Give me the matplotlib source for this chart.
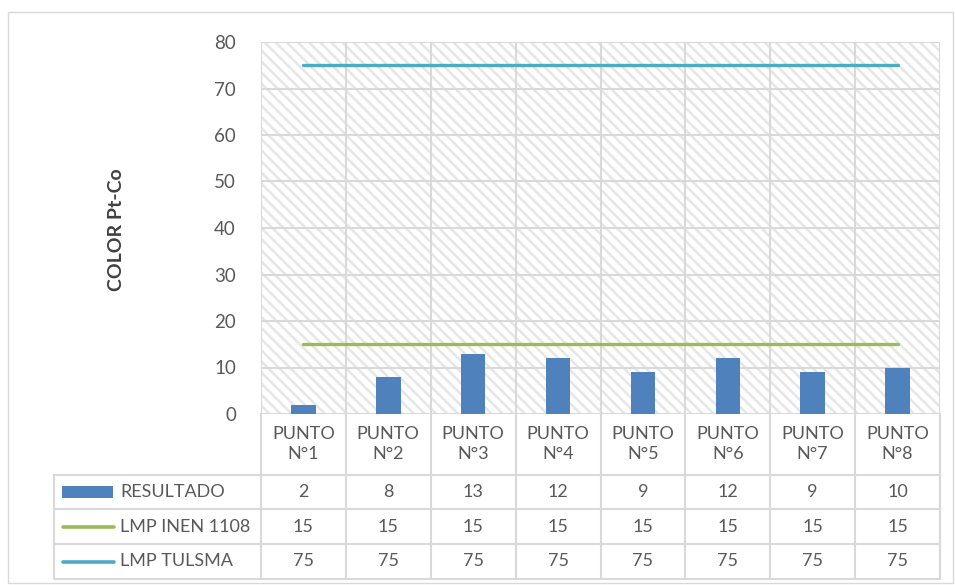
import matplotlib
matplotlib.use("Agg")
import matplotlib.pyplot as plt
from matplotlib.patches import Rectangle
from matplotlib.lines import Line2D
from matplotlib.transforms import blended_transform_factory

plt.rcParams['font.family'] = ['Lato', 'DejaVu Sans']
plt.rcParams['hatch.color'] = '#E6E6E6'
plt.rcParams['hatch.linewidth'] = 1.8

categories = ["PUNTO\nN°1", "PUNTO\nN°2", "PUNTO\nN°3", "PUNTO\nN°4",
              "PUNTO\nN°5", "PUNTO\nN°6", "PUNTO\nN°7", "PUNTO\nN°8"]
resultado = [2, 8, 13, 12, 9, 12, 9, 10]
lmp_inen = [15, 15, 15, 15, 15, 15, 15, 15]
lmp_tulsma = [75, 75, 75, 75, 75, 75, 75, 75]
series_names = ["RESULTADO", "LMP INEN 1108", "LMP TULSMA"]
y_ticks = [0, 10, 20, 30, 40, 50, 60, 70, 80]

c_bar = '#4F81BD'
c_inen = '#9BBB59'
c_tulsma = '#4BACC6'
c_grid = '#D9D9D9'
c_text = '#595959'

W, H = 955, 585
fig = plt.figure(figsize=(W / 100, H / 100), dpi=100)

def fx(px):
    return px / W

def fy(py):
    return 1 - py / H

# outer chart frame
fig.add_artist(Rectangle((fx(8), fy(583)), fx(953) - fx(8), fy(12) - fy(583),
                         transform=fig.transFigure, fill=False,
                         edgecolor=c_grid, linewidth=1.0))

ax = fig.add_axes([fx(261), fy(414), fx(940) - fx(261), fy(42) - fy(414)])
n = len(categories)
x = list(range(n))
ax.set_xlim(-0.5, n - 0.5)
ax.set_ylim(0, 80)

# hatched plot background
ax.add_patch(Rectangle((0, 0), 1, 1, transform=ax.transAxes, facecolor='white',
                       hatch='\\\\\\', edgecolor='#E6E6E6', linewidth=0, zorder=0))

for yv in y_ticks:
    ax.axhline(yv, color=c_grid, linewidth=1.5, zorder=1)
for i in range(n + 1):
    ax.axvline(i - 0.5, color=c_grid, linewidth=1.5, zorder=1)

ax.bar(x, resultado, width=0.29, color=c_bar, zorder=3)
ax.plot(x, lmp_inen, color=c_inen, linewidth=2.4, solid_capstyle='round', zorder=4)
ax.plot(x, lmp_tulsma, color=c_tulsma, linewidth=2.4, solid_capstyle='round', zorder=4)

for s in ax.spines.values():
    s.set_visible(False)
ax.set_xticks([])
ax.set_yticks(y_ticks)
ax.tick_params(axis='y', length=0, pad=18, labelsize=13.5, labelcolor=c_text)

fig.text(fx(116), fy(230), "COLOR Pt-Co", rotation=90, ha='center', va='center',
         fontsize=14, fontweight='bold', color='#404040')

# data table below the plot
tr = blended_transform_factory(ax.transData, fig.transFigure)
row_edges = [414, 475, 509, 544, 579]
tbl_left = 54
lw = 1.5

# horizontal rules
for k, py in enumerate(row_edges):
    if k == 0:
        continue
    fig.add_artist(Line2D([fx(tbl_left), fx(940)], [fy(py), fy(py)],
                          transform=fig.transFigure, color=c_grid, linewidth=lw))
# vertical rules
fig.add_artist(Line2D([fx(tbl_left), fx(tbl_left)], [fy(475), fy(579)],
                      transform=fig.transFigure, color=c_grid, linewidth=lw))
for i in range(n + 1):
    fig.add_artist(Line2D([i - 0.5, i - 0.5], [fy(414), fy(579)],
                          transform=tr, color=c_grid, linewidth=lw))

# header labels
for i, cat in enumerate(categories):
    fig.text(i, fy(444), cat, transform=tr, ha='center', va='center',
             fontsize=13, color=c_text, linespacing=1.35)

rows = [resultado, lmp_inen, lmp_tulsma]
row_centers = [(row_edges[k] + row_edges[k + 1]) / 2 for k in range(1, 4)]
for r, (vals, cy) in enumerate(zip(rows, row_centers)):
    for i, v in enumerate(vals):
        fig.text(i, fy(cy), str(v), transform=tr, ha='center', va='center',
                 fontsize=13, color=c_text)
    fig.text(fx(120), fy(cy), series_names[r], ha='left', va='center',
             fontsize=13, color=c_text)

# legend keys
fig.add_artist(Rectangle((fx(62), fy(498)), fx(113) - fx(62), fy(486) - fy(498),
                         transform=fig.transFigure, facecolor=c_bar, edgecolor='none'))
for cy, col in zip(row_centers[1:], [c_inen, c_tulsma]):
    fig.add_artist(Line2D([fx(63), fx(114)], [fy(cy), fy(cy)], transform=fig.transFigure,
                          color=col, linewidth=2.6, solid_capstyle='round'))

fig.savefig("out.png", dpi=100)
